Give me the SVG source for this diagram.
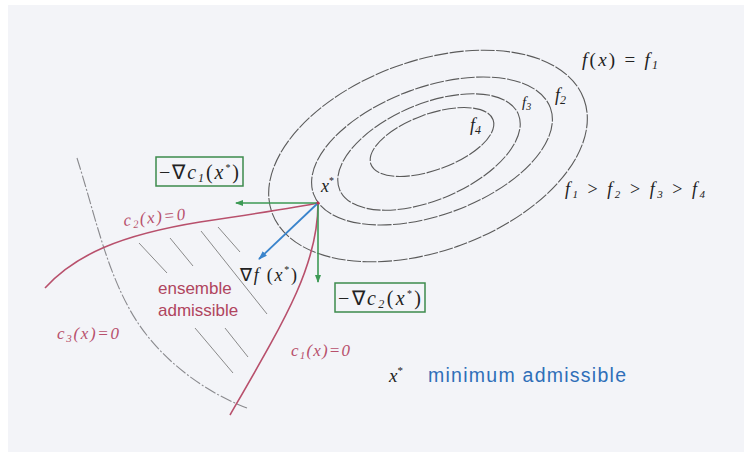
<svg xmlns="http://www.w3.org/2000/svg" width="744" height="452" viewBox="0 0 744 452">
<style>
.bg{fill:#f3f4f8}
.lvl{fill:none;stroke:#5a5a5a;stroke-width:1.1;stroke-dasharray:14 1.5}
.red{fill:none;stroke:#b8506c;stroke-width:1.6}
.c3{fill:none;stroke:#8a8a8e;stroke-width:1.1;stroke-dasharray:12 2 2 2}
.hatch{stroke:#8a8a8a;stroke-width:1}
.math{font-family:"Liberation Serif",serif;font-style:italic;fill:#222}
.rl{font-family:"Liberation Serif",serif;font-style:italic;fill:#b8506c}
.sans{font-family:"Liberation Sans",Arial,sans-serif}
.box{fill:none;stroke:#3d8a4c;stroke-width:1.5}
.garr{stroke:#3d9a55;stroke-width:1.6;fill:none}
.barr{stroke:#3a84cc;stroke-width:1.8;fill:none}
</style>
<defs>
<marker id="ag" markerWidth="8" markerHeight="8" refX="7" refY="4" orient="auto" markerUnits="userSpaceOnUse"><path d="M0,1 L8,4 L0,7 z" fill="#3d9a55"/></marker>
<marker id="ab" markerWidth="9" markerHeight="8" refX="8" refY="4" orient="auto" markerUnits="userSpaceOnUse"><path d="M0,1 L9,4 L0,7 z" fill="#3a84cc"/></marker>
</defs>
<rect width="744" height="452" fill="#ffffff"/>
<rect x="8" y="5" width="736" height="447" class="bg"/>

<g id="level-sets">
<ellipse class="lvl" cx="428" cy="156" rx="166" ry="95" transform="rotate(-20 428 156)"/>
<ellipse class="lvl" cx="432" cy="151" rx="126" ry="64" transform="rotate(-20 432 151)"/>
<ellipse class="lvl" cx="429" cy="152" rx="97" ry="48" transform="rotate(-23 429 152)"/>
<ellipse class="lvl" cx="432" cy="142" rx="65" ry="28" transform="rotate(-20 432 142)"/>
<text class="math" x="582" y="66" font-size="19" textLength="76" lengthAdjust="spacing">f<tspan font-style="normal">(</tspan>x<tspan font-style="normal">) = </tspan>f<tspan font-size="12" dy="3">1</tspan></text>
<text class="math" x="555" y="101" font-size="18">f<tspan font-size="12" dy="3">2</tspan></text>
<text class="math" x="522" y="107" font-size="15">f<tspan font-size="10" dy="3">3</tspan></text>
<text class="math" x="470" y="131" font-size="18">f<tspan font-size="12" dy="3">4</tspan></text>
<text class="math" x="565" y="195" font-size="18" textLength="140" lengthAdjust="spacing">f<tspan font-size="11" dy="3">1</tspan><tspan font-style="normal" dy="-3"> &gt; </tspan>f<tspan font-size="11" dy="3">2</tspan><tspan font-style="normal" dy="-3"> &gt; </tspan>f<tspan font-size="11" dy="3">3</tspan><tspan font-style="normal" dy="-3"> &gt; </tspan>f<tspan font-size="11" dy="3">4</tspan></text>
</g>

<g id="constraints">
<path class="c3" d="M77 158 C95 215 105 265 130 310 C155 355 200 390 247 408"/>
<path class="red" d="M45 288 C75 255 120 235 200 222 C260 213 300 207 318 203"/>
<path class="red" d="M318 203 C318 265 286 318 230 415"/>
<text class="rl" x="124" y="226" font-size="17" textLength="62" lengthAdjust="spacing" transform="rotate(-6 124 226)">c<tspan font-size="11" dy="3">2</tspan><tspan dy="-3">(x)=0</tspan></text>
<text class="rl" x="57" y="339" font-size="17" textLength="62" lengthAdjust="spacing">c<tspan font-size="11" dy="3">3</tspan><tspan dy="-3">(x)=0</tspan></text>
<text class="rl" x="291" y="356" font-size="17" textLength="59" lengthAdjust="spacing">c<tspan font-size="11" dy="3">1</tspan><tspan dy="-3">(x)=0</tspan></text>
</g>

<g id="feasible-set">
<line class="hatch" x1="139" y1="243" x2="167" y2="273"/>
<line class="hatch" x1="170" y1="238" x2="193" y2="266"/>
<line class="hatch" x1="201" y1="231" x2="267" y2="314"/>
<line class="hatch" x1="218" y1="227" x2="240" y2="252"/>
<line class="hatch" x1="195" y1="328" x2="233" y2="373"/>
<line class="hatch" x1="225" y1="328" x2="248" y2="357"/>
<text class="sans" x="158" y="294" font-size="17" fill="#b0455e">ensemble</text>
<text class="sans" x="158" y="316" font-size="17" fill="#b0455e">admissible</text>
</g>

<g id="connectors">
<line class="garr" x1="318" y1="203" x2="236" y2="203" marker-end="url(#ag)"/>
<line class="garr" x1="318" y1="203" x2="318" y2="282" marker-end="url(#ag)"/>
<line class="barr" x1="318" y1="203" x2="259" y2="259" marker-end="url(#ab)"/>
</g>

<g id="xstar">
<circle cx="318" cy="203" r="1.6" fill="#c03050"/>
<text class="math" x="321" y="192" font-size="18">x<tspan font-size="10" dy="-8" font-style="normal">*</tspan></text>
</g>

<g id="grad-c1">
<rect class="box" x="156" y="157" width="87" height="29"/>
<text class="math" x="159" y="179" font-size="20" textLength="80" lengthAdjust="spacing"><tspan font-style="normal">−∇</tspan>c<tspan font-size="12" dy="3">1</tspan><tspan dy="-3" font-style="normal">(</tspan>x<tspan font-size="10" dy="-8" font-style="normal">*</tspan><tspan dy="8" font-style="normal">)</tspan></text>
</g>

<g id="grad-c2">
<rect class="box" x="335" y="283" width="90" height="29"/>
<text class="math" x="338" y="305" font-size="20" textLength="83" lengthAdjust="spacing"><tspan font-style="normal">−∇</tspan>c<tspan font-size="12" dy="3">2</tspan><tspan dy="-3" font-style="normal">(</tspan>x<tspan font-size="10" dy="-8" font-style="normal">*</tspan><tspan dy="8" font-style="normal">)</tspan></text>
</g>

<g id="grad-f">
<text class="math" x="240" y="281" font-size="18" textLength="57" lengthAdjust="spacing"><tspan font-style="normal">∇</tspan>f<tspan font-style="normal"> (</tspan>x<tspan font-size="10" dy="-8" font-style="normal">*</tspan><tspan dy="8" font-style="normal">)</tspan></text>
</g>

<g id="legend">
<text class="math" x="389" y="382" font-size="19">x<tspan font-size="11" dy="-8" font-style="normal">*</tspan></text>
<text class="sans" x="428" y="382" font-size="19.5" fill="#2f6fb8" textLength="198" lengthAdjust="spacing">minimum admissible</text>
</g>
</svg>
